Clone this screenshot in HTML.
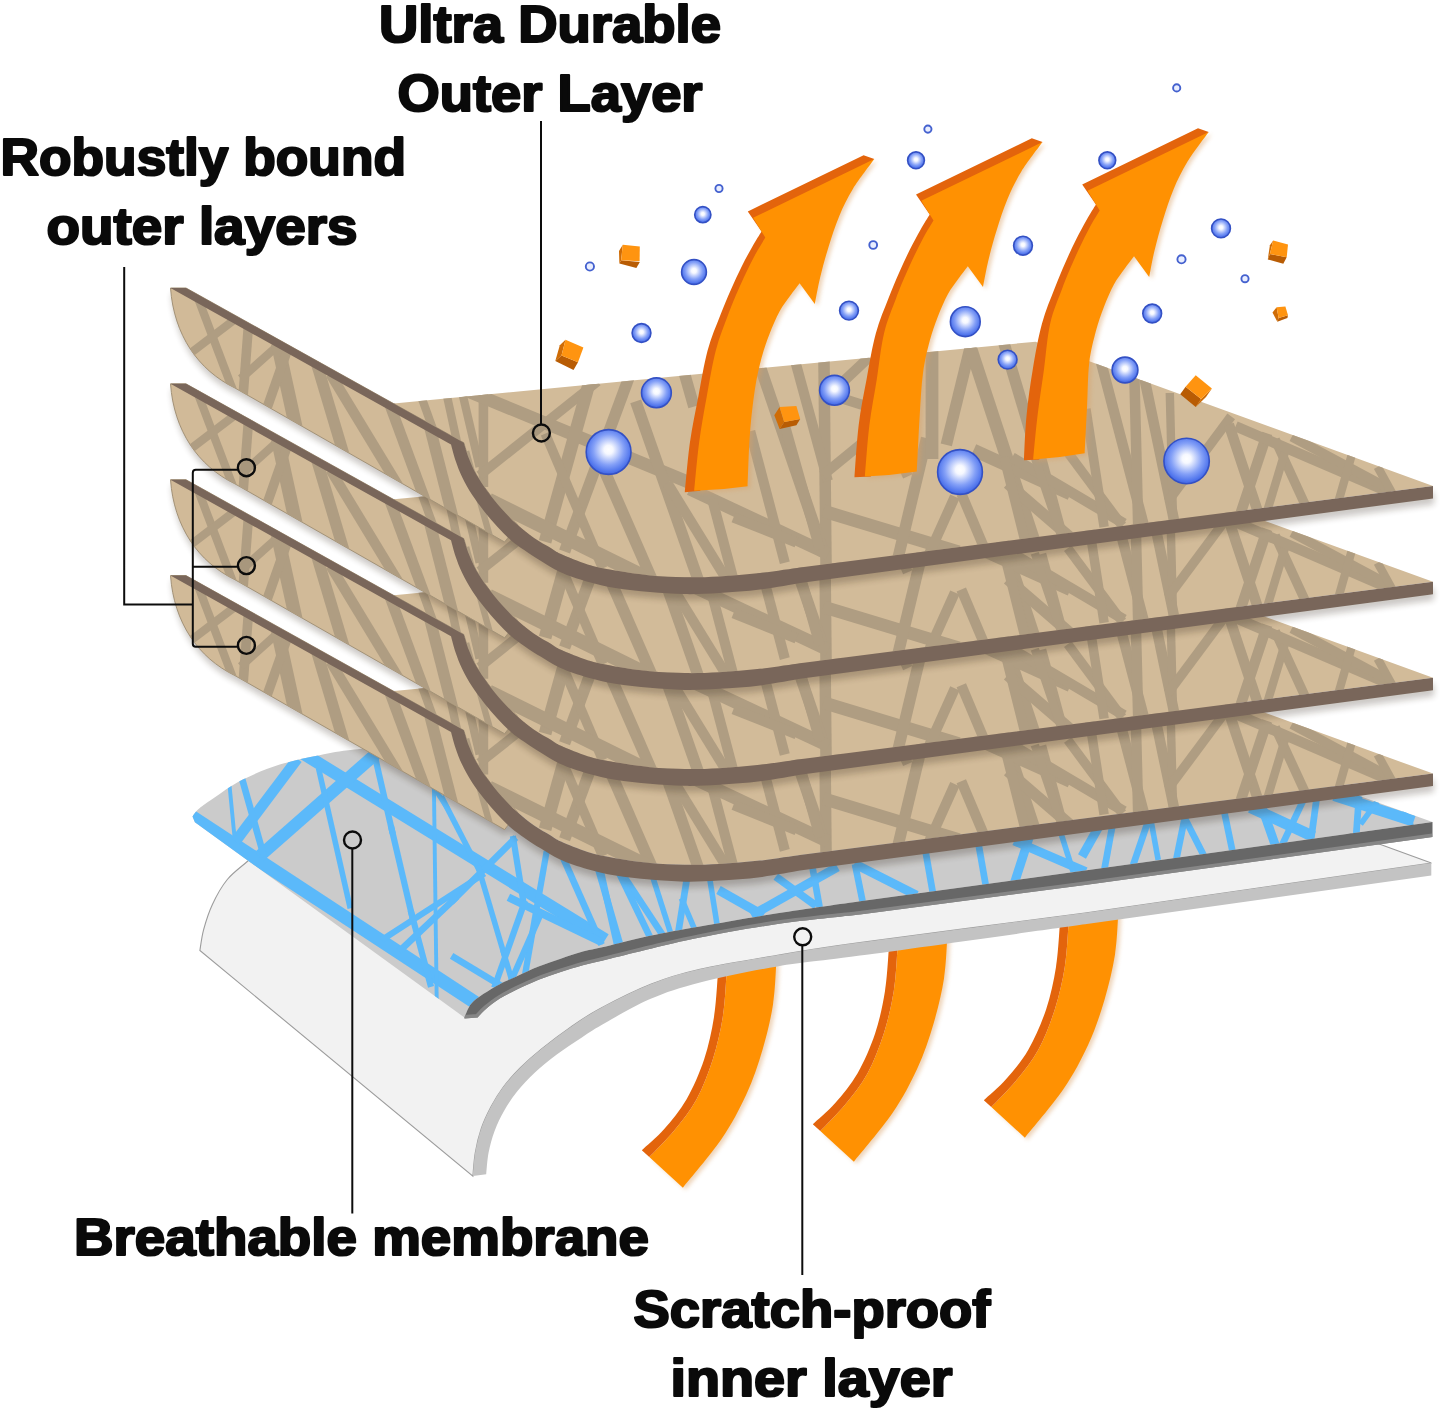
<!DOCTYPE html>
<html><head><meta charset="utf-8"><title>Layer diagram</title>
<style>
html,body{margin:0;padding:0;background:#fff;}
svg{display:block;font-family:"Liberation Sans",sans-serif;font-weight:bold;}
.t{font-size:52px;fill:#0a0a0a;stroke:#0a0a0a;stroke-width:2.2px;stroke-linejoin:round;}
.ld{stroke:#0c0c0c;stroke-width:2;fill:none;} .ld circle{stroke-width:2.4;} .ld circle.f{fill:rgba(110,100,90,0.10);}
</style></head><body>
<svg width="1445" height="1410" viewBox="0 0 1445 1410">
<defs>
<radialGradient id="bub" cx="0.5" cy="0.45" r="0.55">
<stop offset="0" stop-color="#ffffff"/><stop offset="0.18" stop-color="#f6f8ff"/><stop offset="0.62" stop-color="#84a0f7"/><stop offset="0.9" stop-color="#4f74ec"/><stop offset="1" stop-color="#4166e2"/>
</radialGradient>
<linearGradient id="gb" x1="0" y1="0" x2="0" y2="1"><stop offset="0" stop-color="#5e5e5e"/><stop offset="1" stop-color="#8c8c8c"/></linearGradient>
<filter id="blur3" x="-5%" y="-20%" width="110%" height="140%"><feGaussianBlur stdDeviation="3.2"/></filter>
<filter id="blur2" x="-10%" y="-10%" width="120%" height="120%"><feGaussianBlur stdDeviation="2"/></filter>
<clipPath id="cl"><path d="M394.0,403.5L1035.5,341.7 L1433.0,486.0 L800.0,567.5 C793.3,568.4 773.5,571.5 760.0,573.0 C746.5,574.5 731.8,575.7 719.2,576.4 C706.6,577.1 696.1,577.4 684.6,577.2 C673.1,577.0 661.5,576.5 650.0,575.4 C638.5,574.3 625.8,572.4 615.4,570.6 C605.0,568.8 596.8,567.2 587.7,564.4 C578.6,561.6 567.2,556.8 561.0,554.0 C554.8,551.2 555.2,550.6 550.7,547.9 C546.2,545.2 539.6,541.9 534.1,538.0 C528.6,534.1 522.9,529.5 517.5,524.7 C512.1,519.9 507.0,514.8 502.0,509.2 C497.0,503.6 491.9,497.1 487.6,491.4 C483.4,485.7 479.6,480.3 476.5,474.8 C473.4,469.3 470.9,463.6 468.8,458.2 C466.7,452.8 464.6,445.3 463.8,442.7L394.0,404.5Z"/><path d="M170.5,288.0L186.0,288.0 L463.8,442.7 C464.6,445.3 466.7,452.8 468.8,458.2 C470.9,463.6 473.4,469.3 476.5,474.8 C479.6,480.3 483.4,485.7 487.6,491.4 C491.9,497.1 497.0,503.6 502.0,509.2 C507.0,514.8 515.5,521.2 517.5,524.7 C519.5,528.2 514.6,529.1 514.0,530.0L504.6,542.0 L235.0,388.0 C198,370 174,335 170.5,288Z"/></clipPath>
<clipPath id="cb"><path d="M192.5,816.5 C193.4,815.3 194.7,812.4 198.0,809.5 C201.3,806.6 205.0,804.0 212.4,799.0 C219.8,794.0 231.1,785.5 242.3,779.8 C253.5,774.1 266.8,768.7 279.7,764.6 C292.6,760.5 307.1,757.7 319.5,755.2 C331.9,752.7 337.6,751.4 354.4,749.5 C371.1,747.6 409.1,744.9 420.0,744.0L700.0,740.0 L1250.0,757.0 L1432.5,822.0 L1085.0,870.6 L860.0,901.2 C846.2,903.2 804.2,909.1 777.5,913.3 C750.8,917.5 721.2,922.8 700.0,926.5 C678.8,930.2 665.0,932.6 650.0,935.8 C635.0,938.9 621.2,942.8 610.0,945.4 C598.8,948.0 591.1,949.3 582.9,951.5 C574.7,953.7 568.1,956.2 560.7,958.7 C553.3,961.2 546.0,963.5 538.6,966.4 C531.2,969.3 522.9,973.4 516.4,976.4 C509.9,979.4 505.3,981.2 499.8,984.2 C494.3,987.2 488.0,990.8 483.2,994.1 C478.4,997.4 474.1,1000.2 471.0,1004.1 C467.9,1008.0 465.5,1015.2 464.4,1017.4L194.9,822.2Z"/></clipPath>
<g id="layer">
<g filter="url(#blur3)" opacity="0.24" transform="translate(1,6)"><path d="M186.0,288.0L463.8,442.7 C464.6,445.3 466.7,452.8 468.8,458.2 C470.9,463.6 473.4,469.3 476.5,474.8 C479.6,480.3 483.4,485.7 487.6,491.4 C491.9,497.1 497.0,503.6 502.0,509.2 C507.0,514.8 512.1,519.9 517.5,524.7 C522.9,529.5 528.6,534.1 534.1,538.0 C539.6,541.9 546.2,545.2 550.7,547.9 C555.2,550.6 554.8,551.2 561.0,554.0 C567.2,556.8 578.6,561.6 587.7,564.4 C596.8,567.2 605.0,568.8 615.4,570.6 C625.8,572.4 638.5,574.3 650.0,575.4 C661.5,576.5 673.1,577.0 684.6,577.2 C696.1,577.4 706.6,577.1 719.2,576.4 C731.8,575.7 746.5,574.5 760.0,573.0 C773.5,571.5 793.3,568.4 800.0,567.5 L1433.0,486.0 L1433.0,498.4L800.0,583.0 C793.3,584.1 773.5,587.9 760.0,589.6 C746.5,591.3 731.8,592.2 719.2,593.0 C706.6,593.8 696.1,594.3 684.6,594.1 C673.1,593.9 661.5,593.0 650.0,592.0 C638.5,591.0 625.8,589.6 615.4,587.9 C605.0,586.2 596.9,584.4 587.7,581.7 C578.5,579.1 567.8,575.5 560.0,572.0 C552.2,568.5 547.0,564.6 541.0,561.0 C535.0,557.4 529.2,553.6 524.2,550.1 C519.2,546.6 515.3,544.1 510.9,540.2 C506.5,536.3 502.0,531.7 497.6,526.9 C493.2,522.1 488.6,516.8 484.3,511.4 C480.1,506.0 475.8,500.5 472.1,494.8 C468.4,489.1 464.9,482.7 462.1,477.0 C459.3,471.3 457.4,465.8 455.5,460.4 C453.6,455.0 451.8,447.1 451.0,444.4 L170.5,288.0Z" fill="#2a1c10"/><path d="M170.5,288.0L186.0,288.0 L463.8,442.7 C464.6,445.3 466.7,452.8 468.8,458.2 C470.9,463.6 473.4,469.3 476.5,474.8 C479.6,480.3 483.4,485.7 487.6,491.4 C491.9,497.1 497.0,503.6 502.0,509.2 C507.0,514.8 515.5,521.2 517.5,524.7 C519.5,528.2 514.6,529.1 514.0,530.0L504.6,542.0 L235.0,388.0 C198,370 174,335 170.5,288Z" fill="#2a1c10"/></g>
<path d="M394.0,403.5L1035.5,341.7 L1433.0,486.0 L800.0,567.5 C793.3,568.4 773.5,571.5 760.0,573.0 C746.5,574.5 731.8,575.7 719.2,576.4 C706.6,577.1 696.1,577.4 684.6,577.2 C673.1,577.0 661.5,576.5 650.0,575.4 C638.5,574.3 625.8,572.4 615.4,570.6 C605.0,568.8 596.8,567.2 587.7,564.4 C578.6,561.6 567.2,556.8 561.0,554.0 C554.8,551.2 555.2,550.6 550.7,547.9 C546.2,545.2 539.6,541.9 534.1,538.0 C528.6,534.1 522.9,529.5 517.5,524.7 C512.1,519.9 507.0,514.8 502.0,509.2 C497.0,503.6 491.9,497.1 487.6,491.4 C483.4,485.7 479.6,480.3 476.5,474.8 C473.4,469.3 470.9,463.6 468.8,458.2 C466.7,452.8 464.6,445.3 463.8,442.7L394.0,404.5Z" fill="#d2bb99"/>
<path d="M170.5,288.0L186.0,288.0 L463.8,442.7 C464.6,445.3 466.7,452.8 468.8,458.2 C470.9,463.6 473.4,469.3 476.5,474.8 C479.6,480.3 483.4,485.7 487.6,491.4 C491.9,497.1 497.0,503.6 502.0,509.2 C507.0,514.8 515.5,521.2 517.5,524.7 C519.5,528.2 514.6,529.1 514.0,530.0L504.6,542.0 L235.0,388.0 C198,370 174,335 170.5,288Z" fill="#d1ba98" stroke="#a39277" stroke-width="1"/>
<g clip-path="url(#cl)" stroke="#af9d82" fill="none">
<line x1="195.5" y1="291.5" x2="234.5" y2="394.5" stroke-width="8.3"/>
<line x1="239.6" y1="315.8" x2="186.4" y2="356.2" stroke-width="8.3"/>
<line x1="249.0" y1="318.0" x2="243.0" y2="397.0" stroke-width="9.6"/>
<line x1="279.2" y1="344.3" x2="240.8" y2="378.7" stroke-width="8.3"/>
<line x1="277.5" y1="343.2" x2="297.5" y2="434.8" stroke-width="13.4"/>
<line x1="288.3" y1="347.4" x2="265.7" y2="411.6" stroke-width="9.6"/>
<line x1="316.0" y1="361.3" x2="345.0" y2="458.7" stroke-width="11.5"/>
<line x1="330.4" y1="374.0" x2="399.6" y2="488.0" stroke-width="10.2"/>
<line x1="388.6" y1="401.4" x2="430.4" y2="514.6" stroke-width="10.9"/>
<line x1="429.3" y1="425.2" x2="457.7" y2="536.8" stroke-width="11.5"/>
<line x1="466.1" y1="451.3" x2="489.9" y2="536.7" stroke-width="6.4"/>
<line x1="418.6" y1="389.4" x2="436.4" y2="438.6" stroke-width="8.3"/>
<line x1="445.5" y1="389.2" x2="458.5" y2="448.8" stroke-width="8.3"/>
<line x1="461.4" y1="389.2" x2="479.6" y2="466.8" stroke-width="8.3"/>
<line x1="483.4" y1="388.0" x2="483.4" y2="487.0" stroke-width="9.6"/>
<line x1="479.5" y1="475.4" x2="597.5" y2="381.6" stroke-width="9.6"/>
<line x1="463.5" y1="389.3" x2="706.5" y2="489.7" stroke-width="12.8"/>
<line x1="591.9" y1="373.3" x2="545.1" y2="541.7" stroke-width="12.8"/>
<line x1="630.4" y1="373.4" x2="564.6" y2="551.6" stroke-width="11.5"/>
<line x1="545.3" y1="433.6" x2="602.7" y2="568.4" stroke-width="9.6"/>
<line x1="602.2" y1="465.6" x2="652.8" y2="581.4" stroke-width="11.5"/>
<line x1="635.7" y1="401.4" x2="702.3" y2="591.6" stroke-width="11.5"/>
<line x1="488.7" y1="499.9" x2="651.3" y2="580.1" stroke-width="14.1"/>
<line x1="682.1" y1="365.3" x2="693.9" y2="406.7" stroke-width="11.5"/>
<line x1="667.3" y1="483.0" x2="725.7" y2="578.0" stroke-width="10.2"/>
<line x1="823.9" y1="353.0" x2="826.1" y2="573.0" stroke-width="11.5"/>
<line x1="757.7" y1="359.4" x2="824.3" y2="554.6" stroke-width="11.5"/>
<line x1="795.2" y1="361.2" x2="827.8" y2="480.8" stroke-width="10.2"/>
<line x1="869.1" y1="357.2" x2="824.9" y2="398.8" stroke-width="10.2"/>
<line x1="821.3" y1="391.9" x2="872.7" y2="408.1" stroke-width="10.2"/>
<line x1="861.4" y1="443.6" x2="822.6" y2="475.4" stroke-width="10.2"/>
<line x1="689.7" y1="489.0" x2="828.3" y2="554.0" stroke-width="12.8"/>
<line x1="712.2" y1="499.2" x2="734.8" y2="584.8" stroke-width="10.2"/>
<line x1="823.3" y1="511.0" x2="958.7" y2="552.0" stroke-width="12.8"/>
<line x1="926.6" y1="438.2" x2="896.4" y2="564.8" stroke-width="11.5"/>
<line x1="932.0" y1="345.0" x2="932.0" y2="459.0" stroke-width="12.8"/>
<line x1="971.7" y1="341.2" x2="946.3" y2="444.8" stroke-width="11.5"/>
<line x1="967.8" y1="339.3" x2="1035.2" y2="544.7" stroke-width="12.8"/>
<line x1="954.9" y1="496.6" x2="927.1" y2="558.4" stroke-width="10.2"/>
<line x1="961.3" y1="493.6" x2="985.7" y2="551.4" stroke-width="10.2"/>
<line x1="973.6" y1="450.1" x2="1070.4" y2="493.9" stroke-width="12.8"/>
<line x1="1004.0" y1="343.3" x2="1034.0" y2="443.7" stroke-width="11.5"/>
<line x1="1007.7" y1="483.4" x2="1069.3" y2="536.6" stroke-width="11.5"/>
<line x1="1041.2" y1="458.2" x2="1063.8" y2="541.8" stroke-width="10.2"/>
<line x1="750.2" y1="431.2" x2="784.8" y2="562.8" stroke-width="10.2"/>
<line x1="785.1" y1="426.3" x2="819.9" y2="549.7" stroke-width="10.2"/>
<line x1="871.2" y1="393.6" x2="907.8" y2="476.4" stroke-width="10.2"/>
<line x1="1004.3" y1="457.2" x2="1025.7" y2="542.8" stroke-width="10.2"/>
<line x1="733.5" y1="517.4" x2="796.5" y2="542.6" stroke-width="10.2"/>
<line x1="1100.2" y1="359.2" x2="1145.8" y2="532.8" stroke-width="10.5"/>
<line x1="1134.3" y1="373.0" x2="1138.2" y2="527.0" stroke-width="10.5"/>
<line x1="1144.6" y1="379.1" x2="1175.4" y2="526.9" stroke-width="10.5"/>
<line x1="1169.8" y1="393.0" x2="1173.2" y2="527.0" stroke-width="8.4"/>
<line x1="1231.2" y1="416.4" x2="1167.8" y2="501.6" stroke-width="9.5"/>
<line x1="1228.8" y1="424.4" x2="1258.2" y2="512.6" stroke-width="10.5"/>
<line x1="1267.2" y1="433.4" x2="1240.8" y2="512.6" stroke-width="10.5"/>
<line x1="1275.1" y1="439.6" x2="1305.9" y2="506.4" stroke-width="9.5"/>
<line x1="1287.0" y1="445.3" x2="1267.0" y2="511.7" stroke-width="8.4"/>
<line x1="1235.6" y1="426.2" x2="1390.4" y2="492.8" stroke-width="10.5"/>
<line x1="1291.8" y1="436.7" x2="1386.2" y2="487.3" stroke-width="9.5"/>
<line x1="1351.9" y1="454.3" x2="1338.1" y2="502.7" stroke-width="8.4"/>
<line x1="1377.6" y1="466.9" x2="1395.4" y2="499.1" stroke-width="8.4"/>
<line x1="1012.0" y1="457.4" x2="1124.0" y2="523.6" stroke-width="10.5"/>
<line x1="1067.8" y1="452.4" x2="1122.2" y2="525.6" stroke-width="9.5"/>
<line x1="1034.8" y1="457.4" x2="1064.2" y2="544.6" stroke-width="8.4"/>
<line x1="1085.9" y1="409.1" x2="1104.1" y2="526.9" stroke-width="9.5"/>
</g>
<path d="M186.0,288.0L463.8,442.7 C464.6,445.3 466.7,452.8 468.8,458.2 C470.9,463.6 473.4,469.3 476.5,474.8 C479.6,480.3 483.4,485.7 487.6,491.4 C491.9,497.1 497.0,503.6 502.0,509.2 C507.0,514.8 512.1,519.9 517.5,524.7 C522.9,529.5 528.6,534.1 534.1,538.0 C539.6,541.9 546.2,545.2 550.7,547.9 C555.2,550.6 554.8,551.2 561.0,554.0 C567.2,556.8 578.6,561.6 587.7,564.4 C596.8,567.2 605.0,568.8 615.4,570.6 C625.8,572.4 638.5,574.3 650.0,575.4 C661.5,576.5 673.1,577.0 684.6,577.2 C696.1,577.4 706.6,577.1 719.2,576.4 C731.8,575.7 746.5,574.5 760.0,573.0 C773.5,571.5 793.3,568.4 800.0,567.5 L1433.0,486.0 L1433.0,498.4L800.0,583.0 C793.3,584.1 773.5,587.9 760.0,589.6 C746.5,591.3 731.8,592.2 719.2,593.0 C706.6,593.8 696.1,594.3 684.6,594.1 C673.1,593.9 661.5,593.0 650.0,592.0 C638.5,591.0 625.8,589.6 615.4,587.9 C605.0,586.2 596.9,584.4 587.7,581.7 C578.5,579.1 567.8,575.5 560.0,572.0 C552.2,568.5 547.0,564.6 541.0,561.0 C535.0,557.4 529.2,553.6 524.2,550.1 C519.2,546.6 515.3,544.1 510.9,540.2 C506.5,536.3 502.0,531.7 497.6,526.9 C493.2,522.1 488.6,516.8 484.3,511.4 C480.1,506.0 475.8,500.5 472.1,494.8 C468.4,489.1 464.9,482.7 462.1,477.0 C459.3,471.3 457.4,465.8 455.5,460.4 C453.6,455.0 451.8,447.1 451.0,444.4 L170.5,288.0Z" fill="#79665a"/>
</g>
<g id="tail"><path d="M726.5,975.0 C725.9,982.0 725.1,1002.9 722.8,1017.0 C720.5,1031.1 717.2,1045.7 712.8,1059.4 C708.4,1073.1 703.0,1087.4 696.6,1099.2 C690.2,1111.0 682.1,1120.8 674.2,1130.4 C666.3,1140.0 653.4,1152.6 649.3,1157.0L682.9,1187.7 C689.3,1179.6 710.9,1154.7 721.5,1139.1 C732.1,1123.5 739.5,1109.2 746.4,1094.3 C753.2,1079.3 758.2,1064.4 762.6,1049.4 C767.0,1034.5 770.7,1019.2 773.0,1004.6 C775.3,990.0 775.8,969.1 776.4,962.0Z" fill="#d9a066" opacity="0.45" filter="url(#blur2)" transform="translate(3,2)"/><path d="M726.5,975.0 C725.9,982.0 725.1,1002.9 722.8,1017.0 C720.5,1031.1 717.2,1045.7 712.8,1059.4 C708.4,1073.1 703.0,1087.4 696.6,1099.2 C690.2,1111.0 682.1,1120.8 674.2,1130.4 C666.3,1140.0 653.4,1152.6 649.3,1157.0L682.9,1187.7 C689.3,1179.6 710.9,1154.7 721.5,1139.1 C732.1,1123.5 739.5,1109.2 746.4,1094.3 C753.2,1079.3 758.2,1064.4 762.6,1049.4 C767.0,1034.5 770.7,1019.2 773.0,1004.6 C775.3,990.0 775.8,969.1 776.4,962.0Z" fill="#ff9102"/><path d="M717.8,975.0 C717.2,982.0 716.3,1002.9 714.0,1017.0 C711.7,1031.1 708.7,1045.7 704.1,1059.4 C699.5,1073.1 693.2,1087.6 686.6,1099.2 C680.0,1110.8 671.7,1120.6 664.2,1129.1 C656.7,1137.6 645.5,1146.8 641.8,1150.3L649.3,1157.0 C653.4,1152.6 666.3,1140.0 674.2,1130.4 C682.1,1120.8 690.2,1111.0 696.6,1099.2 C703.0,1087.4 708.4,1073.1 712.8,1059.4 C717.2,1045.7 720.5,1031.1 722.8,1017.0 C725.1,1002.9 725.9,982.0 726.5,975.0Z" fill="#e3640c"/></g>
</defs>
<rect width="1445" height="1410" fill="#fff"/>

<!-- lower arrows -->
<use href="#tail"/>
<use href="#tail" transform="translate(171,-26)"/>
<use href="#tail" transform="translate(342,-50)"/>

<!-- white inner layer -->
<path d="M260.0,850.0 C257.9,851.9 252.8,856.6 247.3,861.5 C241.9,866.4 233.1,872.4 227.3,879.5 C221.5,886.6 216.3,896.1 212.4,904.4 C208.5,912.7 205.8,921.6 203.7,929.3 C201.6,937.0 200.5,947.0 199.9,950.5L472.9,1176.1 C473.3,1172.2 473.9,1160.5 475.3,1152.6 C476.7,1144.7 478.7,1136.1 481.3,1128.5 C483.9,1120.9 487.4,1113.6 491.0,1106.8 C494.6,1100.0 498.2,1093.9 503.0,1087.5 C507.8,1081.1 513.5,1074.6 519.9,1068.2 C526.3,1061.8 533.1,1055.7 541.6,1048.9 C550.1,1042.1 560.9,1033.9 570.6,1027.2 C580.3,1020.5 586.4,1015.9 599.8,1008.7 C613.1,1001.6 634.0,990.9 650.7,984.3 C667.4,977.7 678.9,974.1 700.0,969.3 C721.1,964.5 750.8,959.8 777.5,955.3 C804.2,950.8 808.8,949.6 860.0,942.6 C911.2,935.6 1047.5,917.9 1085.0,913.0L1431.3,863.1 L1384.0,845.7 L1300.0,815.0 L400.0,800.0Z" fill="#f2f2f2" stroke="#9c9c9c" stroke-width="1.1"/>
<path d="M472.9,1176.1 C473.3,1172.2 473.9,1160.5 475.3,1152.6 C476.7,1144.7 478.7,1136.1 481.3,1128.5 C483.9,1120.9 487.4,1113.6 491.0,1106.8 C494.6,1100.0 498.2,1093.9 503.0,1087.5 C507.8,1081.1 513.5,1074.6 519.9,1068.2 C526.3,1061.8 533.1,1055.7 541.6,1048.9 C550.1,1042.1 560.9,1033.9 570.6,1027.2 C580.3,1020.5 586.4,1015.9 599.8,1008.7 C613.1,1001.6 634.0,990.9 650.7,984.3 C667.4,977.7 678.9,974.1 700.0,969.3 C721.1,964.5 750.8,959.8 777.5,955.3 C804.2,950.8 808.8,949.6 860.0,942.6 C911.2,935.6 1047.5,917.9 1085.0,913.0L1431.3,863.1 L1431.3,875.6 L1085.0,924.3 C1047.5,929.5 911.2,948.6 860.0,955.6 C808.8,962.6 804.2,961.9 777.5,966.4 C750.8,970.9 721.1,977.1 700.0,982.5 C678.9,987.9 666.5,992.1 650.7,998.8 C635.0,1005.5 616.9,1016.4 605.5,1022.8 C594.1,1029.2 590.8,1031.5 582.6,1036.9 C574.4,1042.3 564.1,1049.0 556.1,1055.0 C548.1,1061.0 540.8,1067.0 534.4,1073.0 C528.0,1079.0 522.5,1084.9 517.5,1091.1 C512.5,1097.3 508.1,1103.8 504.3,1110.4 C500.5,1117.0 497.2,1123.9 494.6,1130.9 C492.0,1137.9 490.0,1145.4 488.6,1152.6 C487.2,1159.8 486.6,1170.7 486.2,1174.3Z" fill="#c3c3c3"/>

<!-- blue membrane -->
<path d="M192.5,816.5 C193.4,815.3 194.7,812.4 198.0,809.5 C201.3,806.6 205.0,804.0 212.4,799.0 C219.8,794.0 231.1,785.5 242.3,779.8 C253.5,774.1 266.8,768.7 279.7,764.6 C292.6,760.5 307.1,757.7 319.5,755.2 C331.9,752.7 337.6,751.4 354.4,749.5 C371.1,747.6 409.1,744.9 420.0,744.0L700.0,740.0 L1250.0,757.0 L1432.5,822.0 L1085.0,870.6 L860.0,901.2 C846.2,903.2 804.2,909.1 777.5,913.3 C750.8,917.5 721.2,922.8 700.0,926.5 C678.8,930.2 665.0,932.6 650.0,935.8 C635.0,938.9 621.2,942.8 610.0,945.4 C598.8,948.0 591.1,949.3 582.9,951.5 C574.7,953.7 568.1,956.2 560.7,958.7 C553.3,961.2 546.0,963.5 538.6,966.4 C531.2,969.3 522.9,973.4 516.4,976.4 C509.9,979.4 505.3,981.2 499.8,984.2 C494.3,987.2 488.0,990.8 483.2,994.1 C478.4,997.4 474.1,1000.2 471.0,1004.1 C467.9,1008.0 465.5,1015.2 464.4,1017.4L194.9,822.2Z" fill="#cbcbcb"/>
<g clip-path="url(#cb)" stroke="#5bb9fa" fill="none">
<line x1="184.7" y1="811.9" x2="493.3" y2="1014.4" stroke-width="13.4"/>
<line x1="296.6" y1="749.6" x2="605.4" y2="939.6" stroke-width="12.3"/>
<line x1="381.0" y1="749.4" x2="259.0" y2="856.6" stroke-width="12.3"/>
<line x1="297.4" y1="758.8" x2="235.6" y2="841.2" stroke-width="10.6"/>
<line x1="239.9" y1="771.2" x2="264.1" y2="856.8" stroke-width="6.7"/>
<line x1="229.1" y1="781.0" x2="234.4" y2="836.0" stroke-width="3.9"/>
<line x1="318.6" y1="768.5" x2="350.3" y2="908.3" stroke-width="5.6"/>
<line x1="374.6" y1="755.1" x2="392.7" y2="833.6" stroke-width="6.2"/>
<line x1="390.9" y1="825.8" x2="412.6" y2="918.3" stroke-width="6.2"/>
<line x1="410.7" y1="910.5" x2="431.0" y2="986.9" stroke-width="6.2"/>
<line x1="515.8" y1="837.6" x2="451.2" y2="902.2" stroke-width="6.7"/>
<line x1="456.9" y1="896.6" x2="399.1" y2="951.5" stroke-width="6.7"/>
<line x1="484.4" y1="873.5" x2="381.6" y2="940.2" stroke-width="6.2"/>
<line x1="433.9" y1="786.0" x2="436.7" y2="1000.0" stroke-width="3.9"/>
<line x1="441.2" y1="796.4" x2="480.8" y2="873.1" stroke-width="5.6"/>
<line x1="477.9" y1="865.7" x2="505.1" y2="957.8" stroke-width="5.6"/>
<line x1="502.9" y1="950.2" x2="513.1" y2="984.8" stroke-width="5.6"/>
<line x1="512.9" y1="836.1" x2="524.4" y2="908.3" stroke-width="6.2"/>
<line x1="525.1" y1="900.6" x2="494.2" y2="987.8" stroke-width="6.2"/>
<line x1="546.7" y1="851.1" x2="524.3" y2="978.9" stroke-width="6.2"/>
<line x1="563.4" y1="858.3" x2="601.6" y2="944.7" stroke-width="6.7"/>
<line x1="596.9" y1="864.2" x2="620.1" y2="944.8" stroke-width="6.7"/>
<line x1="618.8" y1="868.7" x2="664.2" y2="937.3" stroke-width="6.7"/>
<line x1="508.4" y1="897.3" x2="600.6" y2="941.7" stroke-width="7.8"/>
<line x1="540.6" y1="914.3" x2="509.4" y2="984.7" stroke-width="6.2"/>
<line x1="451.6" y1="955.9" x2="503.4" y2="987.1" stroke-width="6.7"/>
<line x1="413.8" y1="756.6" x2="448.2" y2="809.4" stroke-width="5.0"/>
<line x1="599.1" y1="864.1" x2="617.9" y2="947.9" stroke-width="6.7"/>
<line x1="618.3" y1="871.4" x2="651.7" y2="940.6" stroke-width="6.7"/>
<line x1="651.8" y1="874.2" x2="671.2" y2="934.8" stroke-width="5.6"/>
<line x1="687.6" y1="874.1" x2="678.4" y2="931.9" stroke-width="6.7"/>
<line x1="681.4" y1="898.3" x2="695.6" y2="931.7" stroke-width="5.6"/>
<line x1="709.0" y1="874.1" x2="717.1" y2="924.9" stroke-width="5.6"/>
<line x1="718.5" y1="890.0" x2="763.5" y2="915.5" stroke-width="9.0"/>
<line x1="751.5" y1="915.5" x2="837.5" y2="867.0" stroke-width="9.0"/>
<line x1="775.8" y1="876.7" x2="816.2" y2="905.8" stroke-width="7.8"/>
<line x1="811.9" y1="864.1" x2="819.7" y2="907.9" stroke-width="6.7"/>
<line x1="854.4" y1="863.7" x2="916.6" y2="895.3" stroke-width="9.0"/>
<line x1="855.0" y1="864.1" x2="863.3" y2="904.9" stroke-width="6.7"/>
<line x1="924.8" y1="847.1" x2="933.2" y2="894.9" stroke-width="6.7"/>
<line x1="978.0" y1="841.1" x2="986.2" y2="887.9" stroke-width="6.7"/>
<line x1="1030.2" y1="834.2" x2="1013.8" y2="884.8" stroke-width="9.0"/>
<line x1="1014.3" y1="840.9" x2="1085.7" y2="871.6" stroke-width="9.0"/>
<line x1="1060.3" y1="831.2" x2="1073.2" y2="871.8" stroke-width="5.6"/>
<line x1="1113.2" y1="821.1" x2="1104.3" y2="869.9" stroke-width="6.7"/>
<line x1="1100.0" y1="824.5" x2="1082.0" y2="856.5" stroke-width="9.0"/>
<line x1="1148.8" y1="819.2" x2="1133.2" y2="864.8" stroke-width="6.7"/>
<line x1="1151.3" y1="822.1" x2="1158.2" y2="859.9" stroke-width="5.6"/>
<line x1="1185.5" y1="814.1" x2="1176.2" y2="859.9" stroke-width="6.7"/>
<line x1="1182.9" y1="814.4" x2="1204.3" y2="856.6" stroke-width="6.7"/>
<line x1="1223.7" y1="809.1" x2="1232.8" y2="852.9" stroke-width="6.7"/>
<line x1="1250.4" y1="807.3" x2="1313.6" y2="836.7" stroke-width="11.2"/>
<line x1="1262.7" y1="809.2" x2="1275.8" y2="846.8" stroke-width="9.0"/>
<line x1="1303.7" y1="799.4" x2="1282.3" y2="844.6" stroke-width="6.7"/>
<line x1="1317.2" y1="794.0" x2="1311.0" y2="840.0" stroke-width="6.7"/>
<line x1="1334.2" y1="795.3" x2="1413.8" y2="821.2" stroke-width="11.2"/>
<line x1="1359.3" y1="792.0" x2="1356.2" y2="835.0" stroke-width="6.7"/>
<line x1="1381.4" y1="795.8" x2="1360.6" y2="824.2" stroke-width="5.6"/>
<line x1="1404.2" y1="810.4" x2="1413.8" y2="829.6" stroke-width="4.5"/>
</g>
<path d="M1432.5,822.0L1085.0,870.6 L860.0,901.2 C846.2,903.2 804.2,909.1 777.5,913.3 C750.8,917.5 721.2,922.8 700.0,926.5 C678.8,930.2 665.0,932.6 650.0,935.8 C635.0,938.9 621.2,942.8 610.0,945.4 C598.8,948.0 591.1,949.3 582.9,951.5 C574.7,953.7 568.1,956.2 560.7,958.7 C553.3,961.2 546.0,963.5 538.6,966.4 C531.2,969.3 522.9,973.4 516.4,976.4 C509.9,979.4 505.3,981.2 499.8,984.2 C494.3,987.2 488.0,990.8 483.2,994.1 C478.4,997.4 474.1,1000.2 471.0,1004.1 C467.9,1008.0 465.5,1015.2 464.4,1017.4L464.4,1018.4L477.7,1017.4 C479.2,1015.9 482.8,1011.6 486.5,1008.5 C490.2,1005.4 494.8,1001.7 499.8,998.6 C504.8,995.5 509.9,992.9 516.4,989.7 C522.9,986.6 531.2,982.7 538.6,979.7 C546.0,976.8 553.3,974.4 560.7,972.0 C568.1,969.6 574.7,967.5 582.9,965.3 C591.1,963.1 598.5,961.5 610.0,958.7 C621.5,955.9 636.8,952.0 651.8,948.5 C666.8,945.0 679.0,941.7 700.0,937.6 C721.0,933.5 750.8,927.9 777.5,924.0 C804.2,920.1 846.2,916.1 860.0,914.5L1085.0,885.0 L1432.5,837.0Z" fill="#676767"/>
<clipPath id="cbb"><path d="M1432.5,822.0L1085.0,870.6 L860.0,901.2 C846.2,903.2 804.2,909.1 777.5,913.3 C750.8,917.5 721.2,922.8 700.0,926.5 C678.8,930.2 665.0,932.6 650.0,935.8 C635.0,938.9 621.2,942.8 610.0,945.4 C598.8,948.0 591.1,949.3 582.9,951.5 C574.7,953.7 568.1,956.2 560.7,958.7 C553.3,961.2 546.0,963.5 538.6,966.4 C531.2,969.3 522.9,973.4 516.4,976.4 C509.9,979.4 505.3,981.2 499.8,984.2 C494.3,987.2 488.0,990.8 483.2,994.1 C478.4,997.4 474.1,1000.2 471.0,1004.1 C467.9,1008.0 465.5,1015.2 464.4,1017.4L464.4,1018.4L477.7,1017.4 C479.2,1015.9 482.8,1011.6 486.5,1008.5 C490.2,1005.4 494.8,1001.7 499.8,998.6 C504.8,995.5 509.9,992.9 516.4,989.7 C522.9,986.6 531.2,982.7 538.6,979.7 C546.0,976.8 553.3,974.4 560.7,972.0 C568.1,969.6 574.7,967.5 582.9,965.3 C591.1,963.1 598.5,961.5 610.0,958.7 C621.5,955.9 636.8,952.0 651.8,948.5 C666.8,945.0 679.0,941.7 700.0,937.6 C721.0,933.5 750.8,927.9 777.5,924.0 C804.2,920.1 846.2,916.1 860.0,914.5L1085.0,885.0 L1432.5,837.0Z"/></clipPath>
<path d="M1432.5,837.0L1085.0,885.0 L860.0,914.5 C846.2,916.1 804.2,920.1 777.5,924.0 C750.8,927.9 721.0,933.5 700.0,937.6 C679.0,941.7 666.8,945.0 651.8,948.5 C636.8,952.0 621.5,955.9 610.0,958.7 C598.5,961.5 591.1,963.1 582.9,965.3 C574.7,967.5 568.1,969.6 560.7,972.0 C553.3,974.4 546.0,976.8 538.6,979.7 C531.2,982.7 522.9,986.6 516.4,989.7 C509.9,992.9 504.8,995.5 499.8,998.6 C494.8,1001.7 490.2,1005.4 486.5,1008.5 C482.8,1011.6 479.2,1015.9 477.7,1017.4L464.4,1018.4" fill="none" stroke="#8e8e8e" stroke-width="7" clip-path="url(#cbb)" opacity="0.8"/>

<!-- brown layers -->
<use href="#layer" transform="translate(0,287.61)"/>
<use href="#layer" transform="translate(0,191.74)"/>
<use href="#layer" transform="translate(0,95.87)"/>
<use href="#layer"/>

<!-- upper arrows -->
<path d="M874.3,159.1L753.1,217.8 L765.3,237.6 C763.6,240.4 758.6,248.5 755.4,254.3 C752.2,260.1 749.2,266.2 746.2,272.6 C743.2,279.0 740.2,285.4 737.1,292.5 C734.0,299.6 731.5,305.6 727.9,315.3 C724.3,325.0 719.3,337.0 715.8,350.5 C712.3,364.0 709.6,380.9 706.8,396.2 C704.0,411.4 701.3,426.2 699.2,442.0 C697.1,457.8 695.0,482.7 694.2,490.8 Q720.9,490.1 747.6,486.2 C748.0,477.6 748.7,450.3 749.9,434.3 C751.1,418.3 752.9,402.7 754.8,390.0 C756.7,377.3 759.0,367.3 761.5,358.0 C764.0,348.7 766.5,341.8 769.5,334.0 C772.5,326.2 776.1,317.8 779.5,311.5 C782.9,305.2 786.6,300.7 790.0,296.0 C793.4,291.3 798.0,285.4 799.6,283.3L814.8,303.9 C815.7,299.4 817.9,286.7 820.2,277.2 C822.5,267.7 825.4,256.9 828.6,246.7 C831.8,236.5 835.1,225.8 839.2,216.2 C843.3,206.5 847.1,198.3 853.0,188.8 C858.9,179.3 870.8,164.1 874.3,159.1Z" fill="#d9a066" opacity="0.45" filter="url(#blur2)" transform="translate(3,2)"/>
<path d="M863.6,155.2L747.8,211.5 L761.5,231.5 C760.0,234.0 755.6,240.9 752.3,246.7 C749.0,252.5 745.2,259.4 741.7,266.5 C738.2,273.6 734.6,281.3 731.0,289.4 C727.4,297.5 724.2,305.1 720.3,315.3 C716.4,325.5 711.2,337.0 707.6,350.5 C704.0,364.0 701.3,380.9 698.4,396.2 C695.5,411.4 692.3,426.0 690.0,442.0 C687.7,458.0 685.7,483.9 684.8,492.3L700.2,490.8 L770.0,240.0 L874.3,159.1Z" fill="#e3640c"/>
<path d="M874.3,159.1L753.1,217.8 L765.3,237.6 C763.6,240.4 758.6,248.5 755.4,254.3 C752.2,260.1 749.2,266.2 746.2,272.6 C743.2,279.0 740.2,285.4 737.1,292.5 C734.0,299.6 731.5,305.6 727.9,315.3 C724.3,325.0 719.3,337.0 715.8,350.5 C712.3,364.0 709.6,380.9 706.8,396.2 C704.0,411.4 701.3,426.2 699.2,442.0 C697.1,457.8 695.0,482.7 694.2,490.8 Q720.9,490.1 747.6,486.2 C748.0,477.6 748.7,450.3 749.9,434.3 C751.1,418.3 752.9,402.7 754.8,390.0 C756.7,377.3 759.0,367.3 761.5,358.0 C764.0,348.7 766.5,341.8 769.5,334.0 C772.5,326.2 776.1,317.8 779.5,311.5 C782.9,305.2 786.6,300.7 790.0,296.0 C793.4,291.3 798.0,285.4 799.6,283.3L814.8,303.9 C815.7,299.4 817.9,286.7 820.2,277.2 C822.5,267.7 825.4,256.9 828.6,246.7 C831.8,236.5 835.1,225.8 839.2,216.2 C843.3,206.5 847.1,198.3 853.0,188.8 C858.9,179.3 870.8,164.1 874.3,159.1Z" fill="#ff9102"/>
<path d="M1042.5,142.1L921.3,200.8 L933.5,220.6 C931.9,223.4 926.8,231.5 923.6,237.3 C920.4,243.1 917.5,249.2 914.4,255.6 C911.4,262.0 908.4,268.4 905.3,275.5 C902.2,282.6 899.6,288.6 896.1,298.3 C892.5,308.0 887.2,320.0 884.0,333.5 C880.8,347.0 879.2,363.9 876.8,379.2 C874.4,394.4 871.4,408.8 869.4,425.0 C867.4,441.2 865.7,467.8 864.9,476.4 Q890.9,475.6 916.8,471.5 C917.3,462.5 918.6,433.7 919.6,417.3 C920.6,400.9 921.3,385.7 923.0,373.0 C924.7,360.3 927.2,350.3 929.7,341.0 C932.2,331.7 934.7,324.8 937.7,317.0 C940.7,309.2 944.3,300.8 947.7,294.5 C951.1,288.2 954.9,283.7 958.2,279.0 C961.6,274.3 966.2,268.4 967.8,266.3L983.0,286.9 C983.9,282.4 986.1,269.7 988.4,260.2 C990.7,250.7 993.6,239.9 996.8,229.7 C1000.0,219.5 1003.3,208.8 1007.4,199.2 C1011.5,189.5 1015.4,181.3 1021.2,171.8 C1027.0,162.3 1039.0,147.1 1042.5,142.1Z" fill="#d9a066" opacity="0.45" filter="url(#blur2)" transform="translate(3,2)"/>
<path d="M1031.8,138.2L916.0,194.5 L929.7,214.5 C928.2,217.0 923.8,223.9 920.5,229.7 C917.2,235.5 913.5,242.4 909.9,249.5 C906.4,256.6 902.8,264.3 899.2,272.4 C895.6,280.5 892.4,288.1 888.5,298.3 C884.6,308.5 879.4,320.0 875.8,333.5 C872.1,347.0 869.4,363.9 866.6,379.2 C863.7,394.4 860.7,408.6 858.7,425.0 C856.7,441.4 855.2,468.6 854.5,477.3L870.9,476.4 L938.2,223.0 L1042.5,142.1Z" fill="#e3640c"/>
<path d="M1042.5,142.1L921.3,200.8 L933.5,220.6 C931.9,223.4 926.8,231.5 923.6,237.3 C920.4,243.1 917.5,249.2 914.4,255.6 C911.4,262.0 908.4,268.4 905.3,275.5 C902.2,282.6 899.6,288.6 896.1,298.3 C892.5,308.0 887.2,320.0 884.0,333.5 C880.8,347.0 879.2,363.9 876.8,379.2 C874.4,394.4 871.4,408.8 869.4,425.0 C867.4,441.2 865.7,467.8 864.9,476.4 Q890.9,475.6 916.8,471.5 C917.3,462.5 918.6,433.7 919.6,417.3 C920.6,400.9 921.3,385.7 923.0,373.0 C924.7,360.3 927.2,350.3 929.7,341.0 C932.2,331.7 934.7,324.8 937.7,317.0 C940.7,309.2 944.3,300.8 947.7,294.5 C951.1,288.2 954.9,283.7 958.2,279.0 C961.6,274.3 966.2,268.4 967.8,266.3L983.0,286.9 C983.9,282.4 986.1,269.7 988.4,260.2 C990.7,250.7 993.6,239.9 996.8,229.7 C1000.0,219.5 1003.3,208.8 1007.4,199.2 C1011.5,189.5 1015.4,181.3 1021.2,171.8 C1027.0,162.3 1039.0,147.1 1042.5,142.1Z" fill="#ff9102"/>
<path d="M1208.7,132.1L1087.5,190.8 L1099.7,210.6 C1098.0,213.4 1093.0,221.5 1089.8,227.3 C1086.6,233.1 1083.6,239.2 1080.6,245.6 C1077.5,252.0 1074.5,258.4 1071.5,265.5 C1068.5,272.6 1065.8,278.6 1062.3,288.3 C1058.8,298.0 1053.2,310.0 1050.2,323.5 C1047.1,337.0 1046.1,353.9 1044.0,369.2 C1041.9,384.4 1039.4,400.0 1037.6,415.0 C1035.8,430.0 1033.9,452.0 1033.2,459.4 Q1058.9,457.9 1084.7,453.2 C1085.1,445.6 1086.2,422.3 1087.0,407.3 C1087.8,392.3 1087.7,375.7 1089.2,363.0 C1090.7,350.3 1093.5,340.3 1095.9,331.0 C1098.4,321.7 1100.9,314.8 1103.9,307.0 C1106.9,299.2 1110.5,290.8 1113.9,284.5 C1117.3,278.2 1121.1,273.7 1124.4,269.0 C1127.8,264.3 1132.4,258.4 1134.0,256.3L1149.2,276.9 C1150.1,272.4 1152.3,259.7 1154.6,250.2 C1156.9,240.7 1159.8,229.9 1163.0,219.7 C1166.2,209.5 1169.5,198.8 1173.6,189.2 C1177.7,179.5 1181.6,171.3 1187.4,161.8 C1193.2,152.3 1205.1,137.1 1208.7,132.1Z" fill="#d9a066" opacity="0.45" filter="url(#blur2)" transform="translate(3,2)"/>
<path d="M1198.0,128.2L1082.2,184.5 L1095.9,204.5 C1094.4,207.0 1090.0,213.9 1086.7,219.7 C1083.4,225.5 1079.6,232.4 1076.1,239.5 C1072.5,246.6 1069.0,254.3 1065.4,262.4 C1061.8,270.5 1058.6,278.1 1054.7,288.3 C1050.8,298.5 1045.7,310.0 1042.0,323.5 C1038.3,337.0 1035.4,353.9 1032.8,369.2 C1030.2,384.4 1028.1,399.8 1026.6,415.0 C1025.1,430.2 1024.4,452.7 1024.0,460.2L1039.2,459.4 L1104.4,213.0 L1208.7,132.1Z" fill="#e3640c"/>
<path d="M1208.7,132.1L1087.5,190.8 L1099.7,210.6 C1098.0,213.4 1093.0,221.5 1089.8,227.3 C1086.6,233.1 1083.6,239.2 1080.6,245.6 C1077.5,252.0 1074.5,258.4 1071.5,265.5 C1068.5,272.6 1065.8,278.6 1062.3,288.3 C1058.8,298.0 1053.2,310.0 1050.2,323.5 C1047.1,337.0 1046.1,353.9 1044.0,369.2 C1041.9,384.4 1039.4,400.0 1037.6,415.0 C1035.8,430.0 1033.9,452.0 1033.2,459.4 Q1058.9,457.9 1084.7,453.2 C1085.1,445.6 1086.2,422.3 1087.0,407.3 C1087.8,392.3 1087.7,375.7 1089.2,363.0 C1090.7,350.3 1093.5,340.3 1095.9,331.0 C1098.4,321.7 1100.9,314.8 1103.9,307.0 C1106.9,299.2 1110.5,290.8 1113.9,284.5 C1117.3,278.2 1121.1,273.7 1124.4,269.0 C1127.8,264.3 1132.4,258.4 1134.0,256.3L1149.2,276.9 C1150.1,272.4 1152.3,259.7 1154.6,250.2 C1156.9,240.7 1159.8,229.9 1163.0,219.7 C1166.2,209.5 1169.5,198.8 1173.6,189.2 C1177.7,179.5 1181.6,171.3 1187.4,161.8 C1193.2,152.3 1205.1,137.1 1208.7,132.1Z" fill="#ff9102"/>

<!-- cubes -->
<polygon points="619.4,263.6 636.4,268.1 639.8,261.9 621.1,260.2" fill="#b85c04"/>
<polygon points="622.8,244.8 619.0,251.1 619.4,263.6 621.1,260.2" fill="#cf6c06"/>
<polygon points="622.8,244.8 639.8,246.5 639.6,261.3 621.1,260.2" fill="#ff9410"/>
<polygon points="561.5,355.4 578.0,362.2 573.5,370.0 555.3,361.1" fill="#b85c04"/>
<polygon points="565.5,339.8 561.5,355.4 555.3,361.1 559.8,345.2" fill="#cf6c06"/>
<polygon points="565.5,339.8 583.4,347.5 578.0,362.2 561.5,355.4" fill="#ff9410"/>
<polygon points="784.2,422.1 800.2,419.1 796.4,425.2 779.6,429.0" fill="#b85c04"/>
<polygon points="779.6,406.9 784.2,422.1 779.6,429.0 774.3,415.3" fill="#cf6c06"/>
<polygon points="779.6,406.9 796.4,406.1 800.2,419.1 784.2,422.1" fill="#ff9410"/>
<polygon points="1269.9,254.0 1286.7,257.3 1283.3,263.8 1267.8,259.4" fill="#b85c04"/>
<polygon points="1273.2,240.5 1269.9,254.0 1267.8,259.4 1269.9,245.2" fill="#cf6c06"/>
<polygon points="1273.2,240.5 1288.0,244.5 1286.7,257.3 1269.9,254.0" fill="#ff9410"/>
<polygon points="1278.6,318.0 1288.0,315.3 1287.4,318.0 1277.3,321.8" fill="#b85c04"/>
<polygon points="1276.6,307.2 1278.6,318.0 1277.3,321.8 1272.5,312.6" fill="#cf6c06"/>
<polygon points="1276.6,307.2 1285.4,306.5 1288.0,315.3 1278.6,318.0" fill="#ff9410"/>
<polygon points="1185.6,386.7 1201.1,398.9 1195.7,407.0 1180.2,394.2" fill="#b85c04"/>
<polygon points="1211.9,388.4 1201.1,398.9 1195.7,407.0 1206.0,397.0" fill="#cf6c06"/>
<polygon points="1195.7,375.3 1211.9,388.4 1201.1,398.9 1185.6,386.7" fill="#ff9410"/>
<!-- bubbles -->
<circle cx="719.0" cy="188.5" r="3.6" fill="#e9eeff" stroke="#4461cf" stroke-width="1.9"/>
<circle cx="702.8" cy="214.7" r="8.1" fill="url(#bub)" stroke="#3350c4" stroke-width="1.6"/>
<circle cx="589.9" cy="266.5" r="4.1" fill="#e9eeff" stroke="#4461cf" stroke-width="1.9"/>
<circle cx="694.0" cy="272.0" r="12.4" fill="url(#bub)" stroke="#3350c4" stroke-width="1.6"/>
<circle cx="641.5" cy="333.0" r="9.4" fill="url(#bub)" stroke="#3350c4" stroke-width="1.6"/>
<circle cx="873.2" cy="245.0" r="3.9" fill="#e9eeff" stroke="#4461cf" stroke-width="1.9"/>
<circle cx="849.0" cy="310.6" r="9.4" fill="url(#bub)" stroke="#3350c4" stroke-width="1.6"/>
<circle cx="916.0" cy="160.3" r="8.4" fill="url(#bub)" stroke="#3350c4" stroke-width="1.6"/>
<circle cx="656.4" cy="392.8" r="14.9" fill="url(#bub)" stroke="#3350c4" stroke-width="1.6"/>
<circle cx="834.5" cy="390.3" r="14.9" fill="url(#bub)" stroke="#3350c4" stroke-width="1.6"/>
<circle cx="608.6" cy="452.0" r="22.4" fill="url(#bub)" stroke="#3350c4" stroke-width="1.6"/>
<circle cx="927.9" cy="129.1" r="3.6" fill="#e9eeff" stroke="#4461cf" stroke-width="1.9"/>
<circle cx="1023.0" cy="245.7" r="9.4" fill="url(#bub)" stroke="#3350c4" stroke-width="1.6"/>
<circle cx="965.3" cy="321.7" r="14.9" fill="url(#bub)" stroke="#3350c4" stroke-width="1.6"/>
<circle cx="1007.6" cy="359.6" r="9.4" fill="url(#bub)" stroke="#3350c4" stroke-width="1.6"/>
<circle cx="1107.3" cy="160.3" r="8.4" fill="url(#bub)" stroke="#3350c4" stroke-width="1.6"/>
<circle cx="1181.5" cy="259.3" r="4.1" fill="#e9eeff" stroke="#4461cf" stroke-width="1.9"/>
<circle cx="1152.2" cy="313.5" r="9.4" fill="url(#bub)" stroke="#3350c4" stroke-width="1.6"/>
<circle cx="1125.0" cy="370.0" r="12.9" fill="url(#bub)" stroke="#3350c4" stroke-width="1.6"/>
<circle cx="1176.7" cy="87.9" r="3.6" fill="#e9eeff" stroke="#4461cf" stroke-width="1.9"/>
<circle cx="1221.0" cy="228.4" r="9.4" fill="url(#bub)" stroke="#3350c4" stroke-width="1.6"/>
<circle cx="1245.0" cy="278.7" r="3.6" fill="#e9eeff" stroke="#4461cf" stroke-width="1.9"/>
<circle cx="1186.6" cy="461.0" r="22.7" fill="url(#bub)" stroke="#3350c4" stroke-width="1.6"/>
<circle cx="960.0" cy="472.0" r="22.4" fill="url(#bub)" stroke="#3350c4" stroke-width="1.6"/>

<!-- leaders -->
<g class="ld">
<path d="M541,121 V424"/><circle class="f" cx="541.4" cy="433" r="8.5"/>
<path d="M124.2,267 V604.6 H192.7 M237.8,469.8 H195.8 Q192.8,469.8 192.8,472.8 V643.8 Q192.8,646.8 195.8,646.8 H237.8 M192.8,566.8 H237.8"/>
<circle class="f" cx="246.4" cy="467.7" r="8.5"/><circle class="f" cx="246.4" cy="565.6" r="8.5"/><circle class="f" cx="246.4" cy="645.4" r="8.5"/>
<circle cx="352.5" cy="840" r="8.5"/><path d="M352.3,849 V1213.5"/>
<circle cx="802.7" cy="936.8" r="8.5"/><path d="M802.3,945.5 V1275"/>
</g>

<!-- labels -->
<g class="t">
<text x="379" y="42" textLength="342" lengthAdjust="spacingAndGlyphs">Ultra Durable</text>
<text x="397.5" y="110.5" textLength="305" lengthAdjust="spacingAndGlyphs">Outer Layer</text>
<text x="0.5" y="175.2" textLength="405.5" lengthAdjust="spacingAndGlyphs">Robustly bound</text>
<text x="46.5" y="243.5" textLength="311" lengthAdjust="spacingAndGlyphs">outer layers</text>
<text x="74" y="1255" textLength="575" lengthAdjust="spacingAndGlyphs">Breathable membrane</text>
<text x="633.5" y="1327.3" textLength="357" lengthAdjust="spacingAndGlyphs">Scratch-proof</text>
<text x="670.5" y="1396.2" textLength="282" lengthAdjust="spacingAndGlyphs">inner layer</text>
</g>
</svg>
</body></html>
